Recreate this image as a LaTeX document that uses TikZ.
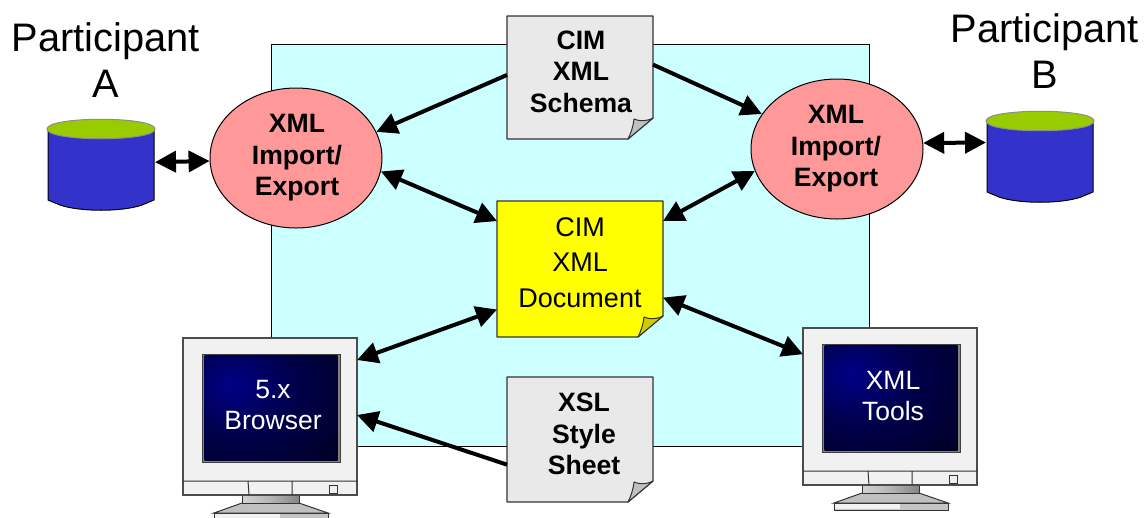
\documentclass[tikz,border=0pt]{standalone}
\usepackage{fontspec}
\setmainfont{Liberation Sans}
\usetikzlibrary{arrows.meta,shapes.geometric}
\definecolor{panelc}{RGB}{204,255,255}
\definecolor{ellc}{RGB}{255,153,153}
\definecolor{pagec}{RGB}{233,233,233}
\definecolor{flapc}{RGB}{192,192,192}
\definecolor{yelc}{RGB}{255,255,0}
\definecolor{yflapc}{RGB}{204,204,0}
\definecolor{cylc}{RGB}{51,51,204}
\definecolor{topc}{RGB}{153,204,0}
\definecolor{monc}{RGB}{241,241,241}
\definecolor{scrA}{RGB}{0,0,135}
\definecolor{scrB}{RGB}{0,0,75}
\definecolor{scrC}{RGB}{0,0,30}
\pgfdeclareradialshading{scrshade}{\pgfpoint{-16bp}{12bp}}{color(0bp)=(scrA);color(22bp)=(scrB);color(50bp)=(scrC);color(100bp)=(scrC)}
\pgfdeclarehorizontalshading{neckshade}{100bp}{color(0bp)=(monc);color(50bp)=(monc!75!black);color(100bp)=(monc!35!black)}
\tikzset{
  x=1pt,y=-1pt,
  bigtext/.style={font=\fontsize{39.8}{46}\selectfont,align=center,inner sep=0pt},
  boldtext/.style={font=\fontsize{26.6}{31.5}\selectfont\bfseries,align=center,inner sep=0pt},
  plaintext/.style={font=\fontsize{27}{35.5}\selectfont,align=center,inner sep=0pt},
  scrtext/.style={font=\fontsize{26.5}{31.5}\selectfont,align=center,inner sep=0pt,text=white},
  io/.style={ellipse,draw=black,line width=1pt,fill=ellc,minimum width=172pt,minimum height=140pt,inner sep=0pt},
  area/.style={rectangle,inner sep=0pt,outer sep=0pt},
  link/.style={line width=4pt,-{Triangle[length=21pt,width=21pt]}},
  linkb/.style={line width=4pt,{Triangle[length=21pt,width=21pt]}-{Triangle[length=21pt,width=21pt]}},
  thin edge/.style={draw=black,line width=0.8pt},
}
% #1 name #2 x1 #3 y1 #4 x2 #5 y2 #6 fill #7 flap
\newcommand{\foldpage}[7]{%
  \filldraw[fill=#6,draw=black!80,line width=1.2pt,line join=round]
    (#2,#3) -- (#4,#3) -- (#4,#5-21) -- (#4-25,#5) -- (#2,#5) -- cycle;
  \filldraw[fill=#7,draw=black!80,line width=1pt,line join=round]
    (#4,#5-21) .. controls (#4-8,#5-17) and (#4-14,#5-18) .. (#4-19,#5-20)
    .. controls (#4-20,#5-12) and (#4-22,#5-6) .. (#4-25,#5) -- cycle;
  \node[area,minimum width=#4-#2,minimum height=#5-#3] (#1) at ({(#2+#4)/2},{(#3+#5)/2}) {};
}
% #1 name #2 dx #3 dy
\newcommand{\monitor}[3]{%
  \begin{scope}[shift={(#2,#3)}]
    \filldraw[fill=monc!60!gray,draw=black!80,line width=1pt] (214,513) rectangle (328,520);
    \fill[monc] (215,514) rectangle (280,519);
    \filldraw[fill=flapc,draw=black!80,line width=1pt] (242,503) -- (214,513) -- (328,513) -- (299,503) -- cycle;
    \shade[shading=neckshade,draw=black!80] (242,495) rectangle (299,503);
    \filldraw[fill=monc,draw=black!70,line width=1.2pt] (183,338) rectangle (357,495);
    \draw[black!80,line width=1pt] (183,481) -- (357,481) (248,481) -- (249,495) (292,481) -- (292,495);
    \filldraw[fill=monc,draw=black!80,line width=1pt] (329,485) rectangle (337,493);
    \fill[black!50] (202,354) rectangle (340,462);
    \shade[shading=scrshade] (204.5,355.5) rectangle (337.5,460.5);
    \draw[black!75,line width=1pt] (202,354) rectangle (340,462);
    \node[area,minimum width=174pt,minimum height=157pt] (#1) at (270,416.5) {};
  \end{scope}
}
% #1 name #2 dx #3 dy
\newcommand{\drum}[3]{%
  \begin{scope}[shift={(#2,#3)}]
    \filldraw[fill=cylc,draw=black,line width=1pt,line join=round]
      (48,129) -- (48,200) -- (60,205) .. controls (80,212) and (122,212) .. (142,205) -- (154,200) -- (154,129) -- cycle;
    \filldraw[fill=topc,draw=black!45,line width=1pt] (47,129) .. controls (47,116) and (155,116) .. (155,129)
       .. controls (155,142) and (47,142) .. (47,129) -- cycle;
    \node[area,minimum width=108pt,minimum height=92pt] (#1) at (101,165) {};
  \end{scope}
}
\begin{document}
\begin{tikzpicture}
\useasboundingbox (0,0) rectangle (1145,517);
\node[area,draw=black,line width=0.8pt,fill=panelc,minimum width=598pt,minimum height=402pt] (panel) at (570,245) {};

\foldpage{schema}{507}{16}{653}{139}{pagec}{flapc}
\foldpage{xsl}{507}{377}{653}{502}{pagec}{flapc}
\foldpage{doc}{497}{201}{663}{337}{yelc}{yflapc}
\monitor{monA}{0}{0}
\monitor{monB}{620}{-10}
\drum{cylA}{0}{0}
\drum{cylB}{939}{-8}

\node[io] (ieA) at (296,158) {};
\node[io] (ieB) at (837,149) {};

\node[bigtext] (partA) at (106,60.5) {Participant\\A};
\node[bigtext] (partB) at (1045,51) {Participant\\B};
\node[boldtext] (tSchema) at (581,71.5) {CIM\\XML\\Schema};
\node[boldtext] (tXsl) at (584,434) {XSL\\Style\\Sheet};
\node[boldtext] (tA) at (297,158) {XML\\Import/\\Export};
\node[boldtext] (tB) at (836,149) {XML\\Import/\\Export};
\node[plaintext] (tDoc) at (580,262.5) {CIM\\XML\\Document};
\node[scrtext] (tBrowser) at (273,405) {5.x\\Browser};
\node[scrtext] (tTools) at (893,396) {XML\\Tools};

\draw[link] (schema.178) -- (ieA.18.9);
\draw[link] (schema.10.5) -- (ieB.155.6);
\draw[linkb] (ieA.-9.5) -- (doc.150.6);
\draw[linkb] (ieB.195.9) -- (doc.30.4);
\draw[linkb] (doc.206.2) -- (monA.33.9);
\draw[linkb] (doc.-19.1) -- (monB.149.1);
\draw[link] (xsl.199.3) -- (monA.1);
\draw[linkb] (cylA.3.2) -- (ieA.182.7);
\draw[linkb] (cylB.165.6) -- (ieB.4);
\end{tikzpicture}
\end{document}
